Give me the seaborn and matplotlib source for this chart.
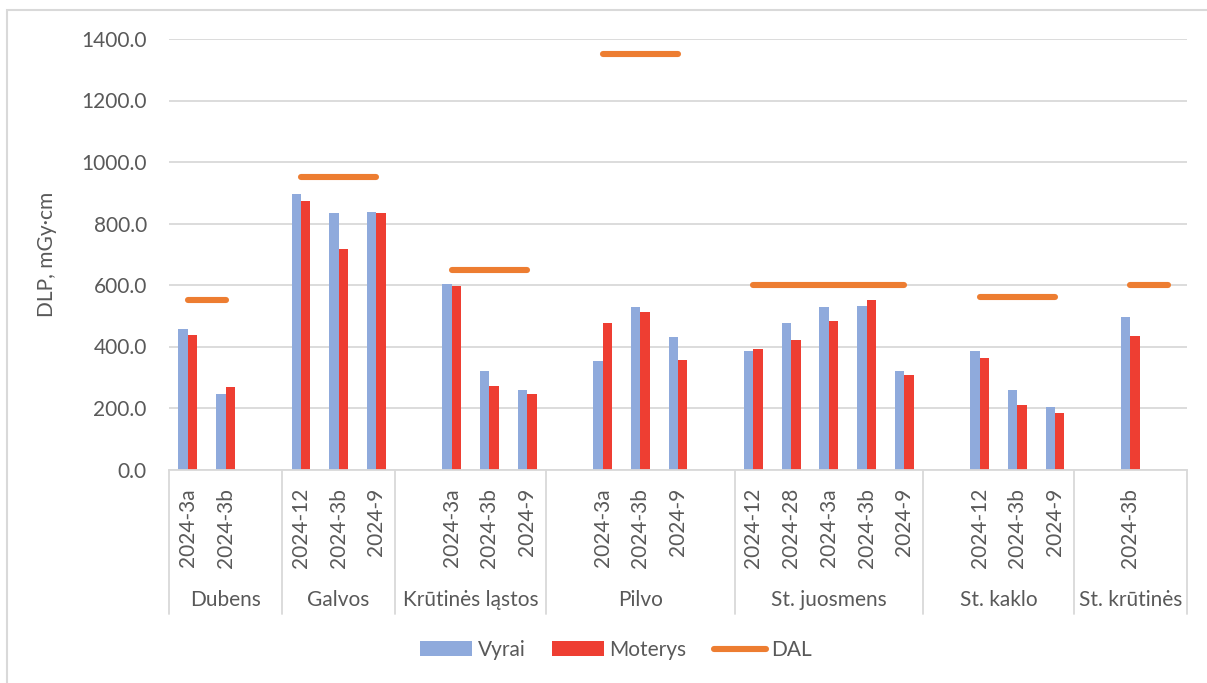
import numpy as np
import pandas as pd
import matplotlib
matplotlib.use("Agg")
import matplotlib.pyplot as plt
import seaborn as sns
from matplotlib.patches import Patch, Rectangle
from matplotlib.lines import Line2D
import matplotlib.transforms as mtransforms

nan = np.nan

# ---- data ----
groups = ["Dubens", "Galvos", "Krūtinės ląstos", "Pilvo",
          "St. juosmens", "St. kaklo", "St. krūtinės"]
group_sizes = [3, 3, 4, 5, 5, 4, 3]
sub_labels = ["2024-3a", "2024-3b", "",
              "2024-12", "2024-3b", "2024-9",
              "", "2024-3a", "2024-3b", "2024-9",
              "", "2024-3a", "2024-3b", "2024-9", "",
              "2024-12", "2024-28", "2024-3a", "2024-3b", "2024-9",
              "", "2024-12", "2024-3b", "2024-9",
              "", "2024-3b", ""]
vyrai = [458, 245, nan,
         895, 834, 838,
         nan, 603, 320, 258,
         nan, 353, 528, 430, nan,
         384, 476, 528, 531, 319,
         nan, 386, 260, 202,
         nan, 497, nan]
moterys = [436, 267, nan,
           874, 717, 835,
           nan, 598, 273, 246,
           nan, 475, 513, 357, nan,
           393, 422, 482, 552, 308,
           nan, 362, 209, 185,
           nan, 433, nan]
dal = [550, 550, nan,
       950, 950, 950,
       nan, 650, 650, 650,
       nan, 1350, 1350, 1350, nan,
       600, 600, 600, 600, 600,
       nan, 560, 560, 560,
       nan, 600, 600]
y_ticks = [0, 200, 400, 600, 800, 1000, 1200, 1400]
series_names = ["Vyrai", "Moterys", "DAL"]

# ---- styles ----
C_BLUE = "#8FAADC"
C_RED = "#EE3E32"
C_ORANGE = "#ED7D31"
C_TEXT = "#595959"
C_GRID = "#D9D9D9"
FONT = ["Lato", "DejaVu Sans"]
FS = 15

sns.set_style("white")
plt.rcParams["font.family"] = FONT

n = len(sub_labels)
pos = list(range(n))

bars = pd.DataFrame({
    "pos": pos * 2,
    "value": vyrai + moterys,
    "series": [series_names[0]] * n + [series_names[1]] * n,
})

# DAL segments (contiguous runs)
seg_ids = []
seg = 0
prev_nan = True
for v in dal:
    if np.isnan(v):
        seg_ids.append(-1)
        prev_nan = True
    else:
        if prev_nan:
            seg += 1
        seg_ids.append(seg)
        prev_nan = False
dal_df = pd.DataFrame({"pos": pos, "DAL": dal, "seg": seg_ids})
dal_df = dal_df[dal_df["seg"] >= 0]

W, H = 1207, 683
fig = plt.figure(figsize=(W / 100, H / 100), dpi=100)
ax_l, ax_r = 169 / W, 1187 / W
ax_b, ax_t = 1 - 469.5 / H, 1 - 39 / H
ax = fig.add_axes([ax_l, ax_b, ax_r - ax_l, ax_t - ax_b])

# outer chart border
fig.patches.append(Rectangle((7 / W, -0.2), 1.3, 1.2 - 9.5 / H + 0.0,
                             transform=fig.transFigure, fill=False,
                             edgecolor=C_GRID, lw=1.5, zorder=0))

sns.barplot(data=bars, x="pos", y="value", hue="series", order=pos,
            hue_order=series_names[:2], palette=[C_BLUE, C_RED],
            width=0.5, saturation=1, errorbar=None, linewidth=0, ax=ax,
            legend=False, zorder=3)

sns.lineplot(data=dal_df, x="pos", y="DAL", units="seg", estimator=None,
             color=C_ORANGE, lw=4.4, ax=ax, legend=False, zorder=4,
             solid_capstyle="round")

ax.set_xlim(-0.5, n - 0.5)
ax.set_ylim(0, 1400)
ax.set_yticks(y_ticks)
ax.set_yticklabels([f"{t:.1f}" for t in y_ticks], fontsize=FS, color=C_TEXT)
ax.tick_params(axis="y", length=0, pad=16)
ax.set_xticks([])
ax.set_xlabel("")
ax.yaxis.grid(True, color=C_GRID, lw=1.3)
ax.set_axisbelow(True)
for s in ["top", "right", "left"]:
    ax.spines[s].set_visible(False)
ax.spines["bottom"].set_color(C_GRID)
ax.spines["bottom"].set_linewidth(1.3)
ax.spines["bottom"].set_zorder(5)

ax.set_ylabel("DLP, mGy·cm", fontsize=FS, color=C_TEXT)
ax.yaxis.set_label_coords(-0.110, 0.5)

trans = mtransforms.blended_transform_factory(ax.transData, ax.transAxes)
axh = 469.5 - 39

# category labels
for i, lab in enumerate(sub_labels):
    if lab:
        ax.text(i, -(488 - 469.5) / axh, lab, rotation=90, ha="center",
                va="top", fontsize=FS, color=C_TEXT, transform=trans)

# group labels and separators
start = 0
bounds = [-0.5]
for g, size in zip(groups, group_sizes):
    center = start + (size - 1) / 2
    ax.text(center, -(600 - 469.5) / axh, g, ha="center", va="center",
            fontsize=FS, color=C_TEXT, transform=trans)
    start += size
    bounds.append(start - 0.5)
for b in bounds:
    ax.plot([b, b], [0, -(614 - 469.5) / axh], color=C_GRID, lw=1.3,
            transform=trans, clip_on=False)

# legend
handles = [Patch(facecolor=C_BLUE, edgecolor="none"),
           Patch(facecolor=C_RED, edgecolor="none"),
           Line2D([0], [0], color=C_ORANGE, lw=4.4, solid_capstyle="round")]
leg = fig.legend(handles, series_names, ncol=3, loc="center",
                 bbox_to_anchor=(616 / W, 1 - 650 / H), frameon=False,
                 fontsize=FS, handlelength=2.5, handleheight=0.7,
                 handletextpad=0.25, columnspacing=1.3)
for t in leg.get_texts():
    t.set_color(C_TEXT)

fig.savefig("out.png", dpi=100)
